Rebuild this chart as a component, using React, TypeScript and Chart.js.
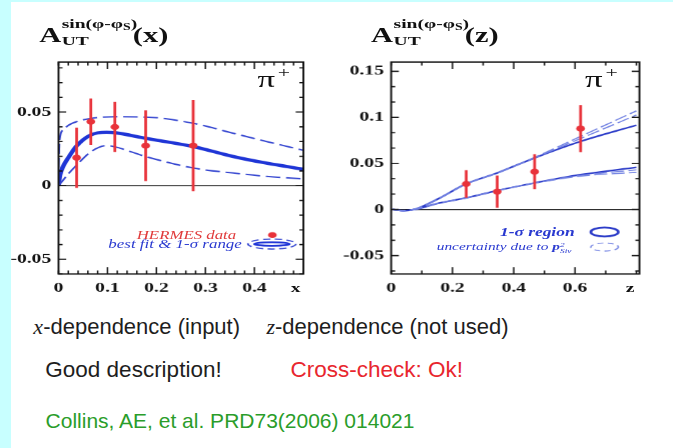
import React, { useEffect, useRef } from "react";
import { Chart, registerables } from "chart.js";

Chart.register(...registerables);

// horizontal stretch of the embedded plot images
const S = 1.45;

// ---------- Left panel: A_UT vs x ----------
const xPointsX = [0.037, 0.066, 0.115, 0.178, 0.275];
const xPointsY = [0.019, 0.0435, 0.0399, 0.0272, 0.0272];
const xPointsErr = [0.0205, 0.0158, 0.017, 0.024, 0.031];

const xFitX = [0, 0.003, 0.01, 0.02, 0.037, 0.066, 0.098, 0.115, 0.178, 0.275, 0.357, 0.425, 0.5];
const xFitY = [0, 0.007, 0.0135, 0.019, 0.027, 0.0345, 0.0363, 0.036, 0.0322, 0.0266, 0.0198, 0.0153, 0.0112];

const xUpperX = [0, 0.002, 0.01, 0.02, 0.037, 0.066, 0.115, 0.178, 0.275, 0.357, 0.425, 0.5];
const xUpperY = [0.012, 0.031, 0.038, 0.041, 0.0435, 0.0457, 0.0468, 0.0466, 0.0424, 0.0356, 0.03, 0.024];

const xLowerX = [0, 0.01, 0.02, 0.037, 0.066, 0.098, 0.115, 0.178, 0.275, 0.357, 0.425, 0.5];
const xLowerY = [0, 0.004, 0.008, 0.014, 0.023, 0.0272, 0.0264, 0.0198, 0.012, 0.0086, 0.0063, 0.0046];

const xTickLabels = [0, 0.1, 0.2, 0.3, 0.4];
const xTickMajor = [0.1, 0.2, 0.3, 0.4];
const xYTickLabels = [-0.05, 0, 0.05];

// ---------- Right panel: A_UT vs z ----------
const zPointsX = [0.245, 0.346, 0.468, 0.618];
const zPointsY = [0.0277, 0.0194, 0.041, 0.0878];
const zPointsErr = [0.015, 0.0175, 0.019, 0.0255];

const zCurveX = [0.005, 0.04, 0.08, 0.15, 0.245, 0.346, 0.468, 0.618, 0.8];
const zUpperSolid = [0, -0.0012, 0.0005, 0.011, 0.0278, 0.0396, 0.056, 0.0739, 0.0915];
const zLowerSolid = [0, -0.0012, 0.0003, 0.0065, 0.0126, 0.0205, 0.0288, 0.0378, 0.0457];
const zUpperDashA = [0, -0.0012, 0.0005, 0.011, 0.0278, 0.0396, 0.0565, 0.0793, 0.107];
const zUpperDashB = [0, -0.0012, 0.0005, 0.011, 0.0278, 0.0396, 0.056, 0.077, 0.1025];
const zLowerDashA = [0, -0.0012, 0.0003, 0.0065, 0.0126, 0.0205, 0.0285, 0.0362, 0.0403];
const zLowerDashB = [0, -0.0012, 0.0003, 0.0065, 0.0126, 0.0205, 0.0288, 0.037, 0.043];

const zTickLabels = [0, 0.2, 0.4, 0.6];
const zTickMajor = [0.2, 0.4, 0.6];
const zYTickLabels = [-0.05, 0, 0.05, 0.1, 0.15];

const RED = "#e8323a";
const SERIF = '"Liberation Serif", "Times New Roman", serif';
const SANS = '"Liberation Sans", Arial, sans-serif';

type Curve = { x: number[]; y: number[]; color: string; width: number; dash: number[] };
type Panel = {
  px: number[]; py: number[]; pe: number[];
  curves: Curve[];
  xMin: number; xMax: number; yMin: number; yMax: number;
  xLabels: number[]; yLabels: number[];
  xMajor: number[]; xMinorStep: number;
  yMinorStep: number;
  padding: { left: number; right: number; top: number; bottom: number };
  legend: (ctx: CanvasRenderingContext2D, a: any) => void;
};

const fmt = (v: number) => (v === 0 ? "0" : String(v));

function minorValues(min: number, max: number, step: number) {
  const out: number[] = [];
  const start = Math.ceil(min / step - 1e-9);
  for (let k = start; k * step <= max + 1e-9; k++) out.push(k * step);
  return out;
}

function makeFramePlugin(p: Panel) {
  return {
    id: "frame",
    beforeDatasetsDraw(chart: any) {
      const { ctx, chartArea: a, scales } = chart;
      const y0 = scales.y.getPixelForValue(0);
      ctx.save();
      ctx.strokeStyle = "#111";
      ctx.lineWidth = 1;
      ctx.beginPath();
      ctx.moveTo(a.left, y0);
      ctx.lineTo(a.right, y0);
      ctx.stroke();
      ctx.restore();
    },
    afterDraw(chart: any) {
      const { ctx, chartArea: a, scales } = chart;
      const xs = scales.x, ys = scales.y;
      ctx.save();
      ctx.strokeStyle = "#111";
      ctx.lineWidth = 1;
      const xMinor = minorValues(p.xMin, p.xMax, p.xMinorStep);
      xMinor.forEach((v) => {
        const major = p.xMajor.some((m) => Math.abs(m - v) < 1e-6);
        const len = major ? 7 : 3.5;
        const px = xs.getPixelForValue(v);
        ctx.beginPath();
        ctx.moveTo(px, a.bottom); ctx.lineTo(px, a.bottom - len);
        ctx.moveTo(px, a.top); ctx.lineTo(px, a.top + len);
        ctx.stroke();
      });
      ctx.lineWidth = 1.2;
      const yMinor = minorValues(p.yMin, p.yMax, p.yMinorStep);
      yMinor.forEach((v) => {
        const major = p.yLabels.some((m) => Math.abs(m - v) < 1e-6);
        const len = major ? 5.3 : 2.8;
        const py = ys.getPixelForValue(v);
        ctx.beginPath();
        ctx.moveTo(a.left, py); ctx.lineTo(a.left + len, py);
        ctx.moveTo(a.right, py); ctx.lineTo(a.right - len, py);
        ctx.stroke();
      });
      ctx.lineWidth = 1.3;
      ctx.strokeRect(a.left, a.top, a.right - a.left, a.bottom - a.top);
      ctx.restore();
      ctx.save();
      p.legend(ctx, a);
      ctx.restore();
    },
  };
}

function makeConfig(p: Panel): any {
  const datasets: any[] = [];
  datasets.push({
    data: p.px.map((x, i) => ({ x, y: p.py[i] })),
    showLine: false,
    pointRadius: 3,
    pointBackgroundColor: RED,
    pointBorderWidth: 0,
  });
  p.px.forEach((x, i) =>
    datasets.push({
      data: [
        { x, y: p.py[i] - p.pe[i] },
        { x, y: p.py[i] + p.pe[i] },
      ],
      showLine: true,
      borderColor: RED,
      borderWidth: 1.9,
      pointRadius: 0,
    })
  );
  p.curves.forEach((c) =>
    datasets.push({
      data: c.x.map((x, i) => ({ x, y: c.y[i] })),
      showLine: true,
      borderColor: c.color,
      borderWidth: c.width,
      borderDash: c.dash,
      pointRadius: 0,
      cubicInterpolationMode: "monotone",
    })
  );
  const tickFont = { family: SERIF, size: 13.5, weight: "bold" };
  return {
    type: "scatter",
    data: { datasets },
    options: {
      animation: false,
      responsive: false,
      devicePixelRatio: S,
      events: [],
      layout: { padding: p.padding },
      plugins: { legend: { display: false }, tooltip: { enabled: false } },
      scales: {
        x: {
          type: "linear",
          min: p.xMin,
          max: p.xMax,
          grid: { display: false, drawTicks: false },
          border: { display: false },
          afterBuildTicks: (s: any) => {
            s.ticks = p.xLabels.map((v) => ({ value: v }));
          },
          afterFit: (s: any) => {
            s.height = 20;
          },
          ticks: {
            autoSkip: false,
            maxRotation: 0,
            padding: 6,
            color: "#111",
            font: tickFont,
            callback: (v: number) => fmt(v),
          },
        },
        y: {
          type: "linear",
          min: p.yMin,
          max: p.yMax,
          grid: { display: false, drawTicks: false },
          border: { display: false },
          afterBuildTicks: (s: any) => {
            s.ticks = p.yLabels.map((v) => ({ value: v }));
          },
          afterFit: (s: any) => {
            s.width = 34;
          },
          ticks: {
            autoSkip: false,
            padding: 5,
            color: "#111",
            font: tickFont,
            callback: (v: number) => fmt(v),
          },
        },
      },
    },
    plugins: [makeFramePlugin(p)],
  };
}

const leftPanel: Panel = {
  px: xPointsX, py: xPointsY, pe: xPointsErr,
  curves: [
    { x: xUpperX, y: xUpperY, color: "#3546d0", width: 1.4, dash: [10, 4] },
    { x: xLowerX, y: xLowerY, color: "#3546d0", width: 1.4, dash: [10, 4] },
    { x: xFitX, y: xFitY, color: "#1f35d6", width: 3.2, dash: [] },
  ],
  xMin: 0, xMax: 0.5, yMin: -0.06, yMax: 0.084,
  xLabels: xTickLabels, yLabels: xYTickLabels,
  xMajor: xTickMajor, xMinorStep: 0.02, yMinorStep: 0.01,
  padding: { left: 6.3, right: 23, top: 62, bottom: 6 },
  legend: (ctx, a) => {
    ctx.fillStyle = RED;
    ctx.beginPath();
    ctx.arc(a.right - 21.4, a.bottom - 39, 3, 0, Math.PI * 2);
    ctx.fill();
    ctx.strokeStyle = "#3546d0";
    ctx.lineWidth = 1.2;
    ctx.setLineDash([5, 3]);
    ctx.beginPath();
    ctx.ellipse(a.right - 21.7, a.bottom - 30, 16.5, 5, 0, 0, Math.PI * 2);
    ctx.stroke();
    ctx.setLineDash([]);
    ctx.strokeStyle = "#1f35d6";
    ctx.lineWidth = 1.8;
    ctx.beginPath();
    ctx.ellipse(a.right - 21.7, a.bottom - 30, 12, 1.8, 0, 0, Math.PI * 2);
    ctx.stroke();
  },
};

const rightPanel: Panel = {
  px: zPointsX, py: zPointsY, pe: zPointsErr,
  curves: [
    { x: zCurveX, y: zUpperDashA, color: "#7282e2", width: 1.1, dash: [9, 3] },
    { x: zCurveX, y: zUpperDashB, color: "#7282e2", width: 1.1, dash: [9, 3] },
    { x: zCurveX, y: zLowerDashA, color: "#7282e2", width: 1.1, dash: [9, 3] },
    { x: zCurveX, y: zLowerDashB, color: "#7282e2", width: 1.1, dash: [9, 3] },
    { x: zCurveX, y: zUpperSolid, color: "#2c3cc8", width: 1.6, dash: [] },
    { x: zCurveX, y: zLowerSolid, color: "#2c3cc8", width: 1.6, dash: [] },
  ],
  xMin: 0, xMax: 0.81, yMin: -0.07, yMax: 0.16,
  xLabels: zTickLabels, yLabels: zYTickLabels,
  xMajor: zTickMajor, xMinorStep: 0.1, yMinorStep: 0.05 / 3,
  padding: { left: 3.7, right: 23.3, top: 62, bottom: 6 },
  legend: (ctx, a) => {
    ctx.strokeStyle = "#2c3cc8";
    ctx.lineWidth = 1.8;
    ctx.beginPath();
    ctx.ellipse(a.right - 24, a.bottom - 42, 9.5, 4.5, 0, 0, Math.PI * 2);
    ctx.stroke();
    ctx.strokeStyle = "#7282e2";
    ctx.lineWidth = 1;
    ctx.setLineDash([4, 3]);
    ctx.beginPath();
    ctx.ellipse(a.right - 24, a.bottom - 27, 9.5, 4, 0, 0, Math.PI * 2);
    ctx.stroke();
    ctx.setLineDash([]);
  },
};

function ChartCanvas({ panel, left, width }: { panel: Panel; left: number; width: number }) {
  const ref = useRef<HTMLCanvasElement>(null);
  useEffect(() => {
    const chart = new Chart(ref.current as HTMLCanvasElement, makeConfig(panel));
    return () => chart.destroy();
  }, []);
  return (
    <canvas
      ref={ref}
      width={width}
      height={300}
      style={{ position: "absolute", left, top: 0, width, height: 300 }}
    />
  );
}

function Title({ left, v }: { left: number; v: string }) {
  const base: React.CSSProperties = { position: "absolute", color: "#111", whiteSpace: "nowrap" };
  return (
    <>
      <div style={{ ...base, left, top: 24.5, font: `bold 21px/21px ${SERIF}` }}>A</div>
      <div style={{ ...base, left: left + 15.5, top: 17, font: `bold 13.5px/14px ${SERIF}` }}>
        sin(φ-φ<span style={{ fontSize: 9.5, position: "relative", top: 2 }}>S</span>)
      </div>
      <div style={{ ...base, left: left + 15.5, top: 33.5, font: `bold 13.5px/14px ${SERIF}` }}>UT</div>
      <div style={{ ...base, left: left + 64.6, top: 24.5, font: `bold 21px/21px ${SERIF}` }}>({v})</div>
    </>
  );
}

function PiPlus({ left }: { left: number }) {
  const base: React.CSSProperties = { position: "absolute", color: "#111", whiteSpace: "nowrap" };
  return (
    <>
      <div style={{ ...base, left, top: 66.5, font: `24px/24px ${SERIF}` }}>π</div>
      <div style={{ ...base, left: left + 14, top: 65, font: `15px/15px ${SERIF}` }}>+</div>
    </>
  );
}

function Caption({ cx, cy, size, color, children }: any) {
  const lh = size;
  return (
    <div
      style={{
        position: "absolute",
        left: cx - 250,
        width: 500,
        top: cy - lh / 2,
        textAlign: "center",
        font: `${size}px/${lh}px ${SANS}`,
        color,
        whiteSpace: "nowrap",
      }}
    >
      {children}
    </div>
  );
}

export default function App() {
  const blueText = "#2a3ad0";
  const W = 673 / S;
  return (
    <div
      style={{
        position: "absolute",
        left: 0,
        top: 0,
        width: 673,
        height: 448,
        background: "#c8ffff",
        overflow: "hidden",
      }}
    >
      <div style={{ position: "absolute", left: 11, top: 2, right: 0, bottom: 0, background: "#ffffff" }} />
      <div
        style={{
          position: "absolute",
          left: 0,
          top: 0,
          width: W,
          height: 300,
          transform: `scaleX(${S})`,
          transformOrigin: "0 0",
        }}
      >
        <ChartCanvas panel={leftPanel} left={0} width={232} />
        <ChartCanvas panel={rightPanel} left={232} width={232} />
        <Title left={27} v="x" />
        <Title left={255.9} v="z" />
        <PiPlus left={177.5} />
        <PiPlus left={403.5} />
        <div style={{ position: "absolute", left: 200.5, top: 281, font: `bold 13.5px/14px ${SERIF}`, color: "#111" }}>x</div>
        <div style={{ position: "absolute", left: 431.5, top: 281, font: `bold 13.5px/14px ${SERIF}`, color: "#111" }}>z</div>
        <div style={{ position: "absolute", left: 94.3, top: 229, font: `italic 11.6px/14px ${SERIF}`, color: "#e03a3a", whiteSpace: "nowrap" }}>
          HERMES data
        </div>
        <div style={{ position: "absolute", left: 74.7, top: 238, font: `italic 11.7px/14px ${SERIF}`, color: blueText, whiteSpace: "nowrap" }}>
          best fit &amp; 1-σ range
        </div>
        <div style={{ position: "absolute", left: 344.8, top: 225, font: `italic bold 12px/14px ${SERIF}`, color: blueText, whiteSpace: "nowrap" }}>
          1-σ region
        </div>
        <div style={{ position: "absolute", left: 301.2, top: 240.3, font: `italic 10.6px/14px ${SERIF}`, color: blueText, whiteSpace: "nowrap" }}>
          uncertainty due to <b>p</b>
          <span style={{ display: "inline-block", verticalAlign: "middle", fontSize: 6.5, lineHeight: "6px", textAlign: "left" }}>
            2<br />Siv
          </span>
        </div>
      </div>
      <Caption cx={136.7} cy={326.7} size={22} color="#1e1e1e">
        <span style={{ fontFamily: SERIF, fontStyle: "italic" }}>x</span>-dependence (input)
      </Caption>
      <Caption cx={387.5} cy={326.7} size={22} color="#1e1e1e">
        <span style={{ fontFamily: SERIF, fontStyle: "italic" }}>z</span>-dependence (not used)
      </Caption>
      <Caption cx={133.5} cy={370} size={22.5} color="#1e1e1e">
        Good description!
      </Caption>
      <Caption cx={376.7} cy={370} size={22.5} color="#e8262e">
        Cross-check: Ok!
      </Caption>
      <Caption cx={230} cy={420} size={21} color="#2a9d2a">
        Collins, AE, et al. PRD73(2006) 014021
      </Caption>
    </div>
  );
}
